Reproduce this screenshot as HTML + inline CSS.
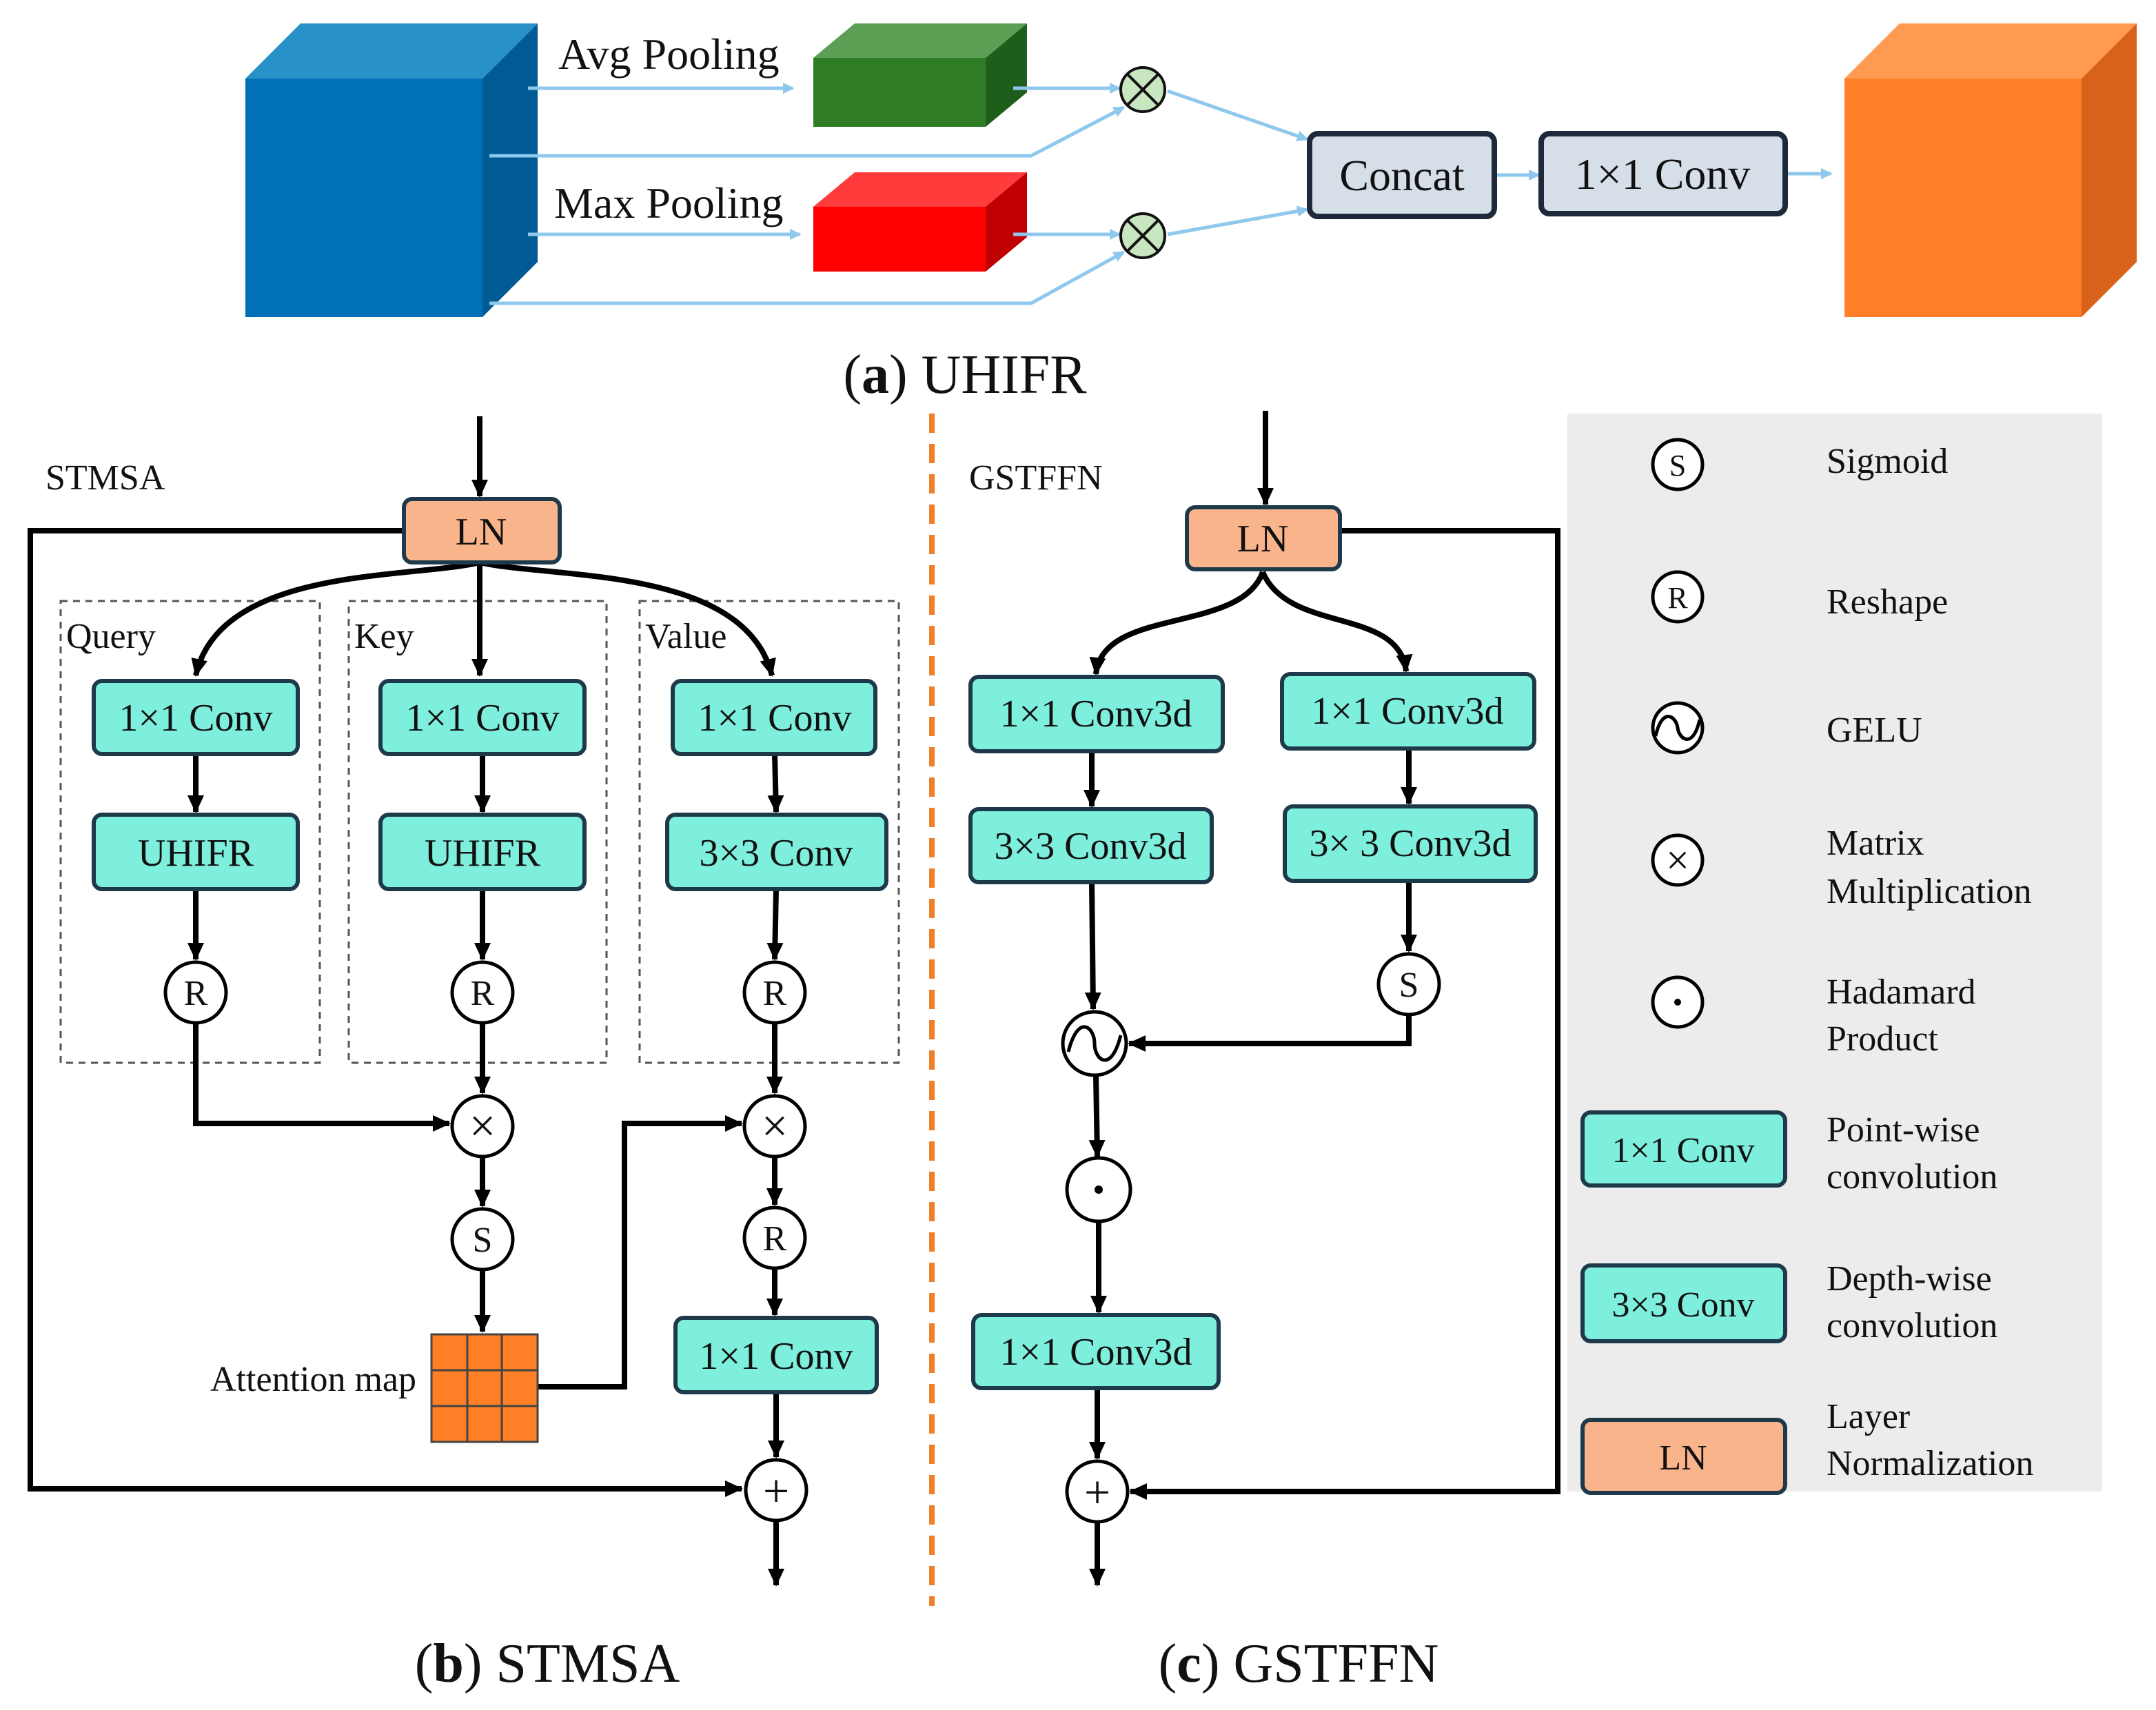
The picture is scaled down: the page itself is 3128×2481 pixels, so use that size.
<!DOCTYPE html>
<html><head><meta charset="utf-8"><style>
html,body{margin:0;padding:0;background:#fff;}
svg{display:block;}
text{font-family:"Liberation Serif",serif;fill:#111;}
</style></head><body>
<svg width="3128" height="2481" viewBox="0 0 1564 1240.5" xmlns="http://www.w3.org/2000/svg">
<defs>
<marker id="ab" markerWidth="8" markerHeight="8" refX="7" refY="4" orient="auto" markerUnits="userSpaceOnUse"><path d="M0,0 L12,4 L0,8 z" fill="#8ec8ec" transform="scale(0.7,1)"/></marker>
<marker id="ak" markerWidth="14" markerHeight="14" refX="12" refY="7" orient="auto" markerUnits="userSpaceOnUse"><path d="M0,1 L13,7 L0,13 z" fill="#000"/></marker>
</defs>
<rect width="1564" height="1240.5" fill="#fff"/>
<polygon points="178,57 218,17 390,17 350,57" fill="#2791c8"/>
<polygon points="350,57 390,17 390,190 350,230" fill="#005a94"/>
<rect x="178" y="57" width="172" height="173" fill="#0070b8"/>
<polygon points="590,42 620,17 745,17 715,42" fill="#5d9e55"/>
<polygon points="715,42 745,17 745,67 715,92" fill="#1f5e1a"/>
<rect x="590" y="42" width="125" height="50" fill="#2e7d25"/>
<polygon points="590,150 620,125 745,125 715,150" fill="#ff3b3b"/>
<polygon points="715,150 745,125 745,172 715,197" fill="#c00000"/>
<rect x="590" y="150" width="125" height="47" fill="#ff0000"/>
<polygon points="1338,57 1378,17 1550,17 1510,57" fill="#ff9a50"/>
<polygon points="1510,57 1550,17 1550,190 1510,230" fill="#d9621a"/>
<rect x="1338" y="57" width="172" height="173" fill="#ff7f27"/>
<g stroke="#8ec8ec" stroke-width="2.5" fill="none">
<line x1="383" y1="64" x2="575" y2="64" marker-end="url(#ab)"/>
<line x1="383" y1="170" x2="580" y2="170" marker-end="url(#ab)"/>
<polyline points="355,113 748,113 815,78" marker-end="url(#ab)"/>
<polyline points="355,220 748,220 815,183" marker-end="url(#ab)"/>
<line x1="735" y1="64" x2="812" y2="64" marker-end="url(#ab)"/>
<line x1="735" y1="170" x2="812" y2="170" marker-end="url(#ab)"/>
<line x1="847" y1="66" x2="948" y2="101" marker-end="url(#ab)"/>
<line x1="847" y1="170" x2="948" y2="152" marker-end="url(#ab)"/>
<line x1="1086" y1="127" x2="1116" y2="127" marker-end="url(#ab)"/>
<line x1="1297" y1="126" x2="1328" y2="126" marker-end="url(#ab)"/>
</g>
<g stroke="#111" stroke-width="2" fill="#c8e6c0">
<circle cx="829" cy="65" r="16"/><circle cx="829" cy="171" r="16"/>
</g>
<g stroke="#111" stroke-width="2"><path d="M818,54 L840,76 M840,54 L818,76 M818,160 L840,182 M840,160 L818,182"/></g>
<rect x="950" y="97" width="134" height="60" rx="6" fill="#d6dfe8" stroke="#1e2a3a" stroke-width="4"/>
<text x="1017" y="138" font-size="32" text-anchor="middle">Concat</text>
<rect x="1118" y="97" width="177" height="58" rx="6" fill="#d6dfe8" stroke="#1e2a3a" stroke-width="4"/>
<text x="1206" y="137" font-size="32" text-anchor="middle">1×1 Conv</text>
<text x="405" y="50" font-size="32">Avg Pooling</text>
<text x="402" y="158" font-size="32">Max Pooling</text>
<text x="700" y="285" font-size="40" text-anchor="middle">(<tspan font-weight="bold">a</tspan>) UHIFR</text>
<line x1="676" y1="300" x2="676" y2="1165" stroke="#f07f2a" stroke-width="4" stroke-dasharray="14 8"/>
<text x="33" y="355" font-size="26">STMSA</text>
<g stroke="#555" stroke-width="1.5" fill="none" stroke-dasharray="5 4">
<rect x="44" y="436" width="188" height="335"/><rect x="253" y="436" width="187" height="335"/><rect x="464" y="436" width="188" height="335"/>
</g>
<text x="48" y="470" font-size="26">Query</text><text x="257" y="470" font-size="26">Key</text><text x="468" y="470" font-size="26">Value</text>
<g stroke="#000" stroke-width="4" fill="none">
<line x1="348" y1="302" x2="348" y2="360" marker-end="url(#ak)"/>
<polyline points="293,385 22,385 22,1080 538,1080" marker-end="url(#ak)"/>
<path d="M348,408 C300,420 160,410 142,490" marker-end="url(#ak)"/>
<line x1="348" y1="408" x2="348" y2="490" marker-end="url(#ak)"/>
<path d="M348,408 C400,420 540,410 560,490" marker-end="url(#ak)"/>
<line x1="142" y1="547" x2="142" y2="589" marker-end="url(#ak)"/>
<line x1="350" y1="547" x2="350" y2="589" marker-end="url(#ak)"/>
<line x1="562" y1="547" x2="563" y2="589" marker-end="url(#ak)"/>
<line x1="142" y1="645" x2="142" y2="696" marker-end="url(#ak)"/>
<line x1="350" y1="645" x2="350" y2="696" marker-end="url(#ak)"/>
<line x1="563" y1="645" x2="562" y2="696" marker-end="url(#ak)"/>
<polyline points="142,742 142,815 326,815" marker-end="url(#ak)"/>
<line x1="350" y1="742" x2="350" y2="793" marker-end="url(#ak)"/>
<line x1="562" y1="742" x2="562" y2="793" marker-end="url(#ak)"/>
<line x1="350" y1="839" x2="350" y2="875" marker-end="url(#ak)"/>
<line x1="350" y1="921" x2="350" y2="966" marker-end="url(#ak)"/>
<polyline points="390,1006 453,1006 453,815 538,815" marker-end="url(#ak)"/>
<line x1="562" y1="839" x2="562" y2="874" marker-end="url(#ak)"/>
<line x1="562" y1="920" x2="562" y2="954" marker-end="url(#ak)"/>
<line x1="563" y1="1010" x2="563" y2="1057" marker-end="url(#ak)"/>
<line x1="563" y1="1104" x2="563" y2="1150" marker-end="url(#ak)"/>
</g>
<g stroke="#1e3a4a" stroke-width="3" fill="#7eeedd">
<rect x="68" y="494" width="148" height="53" rx="6"/><rect x="68" y="591" width="148" height="54" rx="6"/>
<rect x="276" y="494" width="148" height="53" rx="6"/><rect x="276" y="591" width="148" height="54" rx="6"/>
<rect x="488" y="494" width="147" height="53" rx="6"/><rect x="484" y="591" width="159" height="54" rx="6"/>
<rect x="490" y="956" width="146" height="54" rx="6"/>
</g>
<rect x="293" y="362" width="113" height="46" rx="6" fill="#f9b48c" stroke="#1e3a4a" stroke-width="3"/>
<text x="349" y="395" font-size="28" text-anchor="middle">LN</text>
<g font-size="28" text-anchor="middle">
<text x="142" y="530">1×1 Conv</text><text x="142" y="628">UHIFR</text>
<text x="350" y="530">1×1 Conv</text><text x="350" y="628">UHIFR</text>
<text x="562" y="530">1×1 Conv</text><text x="563" y="628">3×3 Conv</text>
<text x="563" y="993">1×1 Conv</text>
</g>
<g stroke="#000" stroke-width="2.5" fill="#fff">
<circle cx="142" cy="720" r="22"/><circle cx="350" cy="720" r="22"/><circle cx="562" cy="720" r="22"/>
<circle cx="350" cy="817" r="22"/><circle cx="562" cy="817" r="22"/>
<circle cx="350" cy="899" r="22"/><circle cx="562" cy="898" r="22"/>
<circle cx="563" cy="1081" r="22"/>
</g>
<g font-size="26" text-anchor="middle">
<text x="142" y="729">R</text><text x="350" y="729">R</text><text x="562" y="729">R</text>
<text x="350" y="908">S</text><text x="562" y="907">R</text>
</g>
<g font-size="34" text-anchor="middle">
<text x="350" y="828">×</text><text x="562" y="828">×</text>
<text x="563" y="1093">+</text>
</g>
<rect x="313" y="968" width="77" height="78" fill="#ff7f27" stroke="#444" stroke-width="1.5"/>
<g stroke="#444" stroke-width="1.5"><line x1="339" y1="968" x2="339" y2="1046"/><line x1="364" y1="968" x2="364" y2="1046"/><line x1="313" y1="994" x2="390" y2="994"/><line x1="313" y1="1020" x2="390" y2="1020"/></g>
<text x="302" y="1009" font-size="26" text-anchor="end">Attention map</text>
<text x="703" y="355" font-size="26">GSTFFN</text>
<g stroke="#000" stroke-width="4" fill="none">
<line x1="918" y1="298" x2="918" y2="366" marker-end="url(#ak)"/>
<polyline points="972,385 1130,385 1130,1082 820,1082" marker-end="url(#ak)"/>
<path d="M916,415 C900,460 800,440 795,489" marker-end="url(#ak)"/>
<path d="M916,415 C935,460 1015,440 1020,487" marker-end="url(#ak)"/>
<line x1="792" y1="545" x2="792" y2="585" marker-end="url(#ak)"/>
<line x1="1022" y1="543" x2="1022" y2="583" marker-end="url(#ak)"/>
<line x1="792" y1="640" x2="793" y2="732" marker-end="url(#ak)"/>
<line x1="1022" y1="639" x2="1022" y2="690" marker-end="url(#ak)"/>
<polyline points="1022,737 1022,757 819,757" marker-end="url(#ak)"/>
<line x1="795" y1="780" x2="796" y2="839" marker-end="url(#ak)"/>
<line x1="797" y1="887" x2="797" y2="952" marker-end="url(#ak)"/>
<line x1="796" y1="1007" x2="796" y2="1058" marker-end="url(#ak)"/>
<line x1="796" y1="1105" x2="796" y2="1150" marker-end="url(#ak)"/>
</g>
<rect x="861" y="368" width="111" height="45" rx="6" fill="#f9b48c" stroke="#1e3a4a" stroke-width="3"/>
<text x="916" y="400" font-size="28" text-anchor="middle">LN</text>
<g stroke="#1e3a4a" stroke-width="3" fill="#7eeedd">
<rect x="704" y="491" width="183" height="54" rx="6"/><rect x="930" y="489" width="183" height="54" rx="6"/>
<rect x="704" y="587" width="175" height="53" rx="6"/><rect x="932" y="585" width="182" height="54" rx="6"/>
<rect x="706" y="954" width="178" height="53" rx="6"/>
</g>
<g font-size="28" text-anchor="middle">
<text x="795" y="527">1×1 Conv3d</text><text x="1021" y="525">1×1 Conv3d</text>
<text x="791" y="623">3×3 Conv3d</text><text x="1023" y="621">3× 3 Conv3d</text>
<text x="795" y="990">1×1 Conv3d</text>
</g>
<g stroke="#000" stroke-width="2.5" fill="#fff">
<circle cx="1022" cy="714" r="22"/><circle cx="794" cy="757" r="23"/><circle cx="797" cy="863" r="23"/><circle cx="796" cy="1082" r="22"/>
</g>
<text x="1022" y="723" font-size="26" text-anchor="middle">S</text>
<text x="796" y="1094" font-size="34" text-anchor="middle">+</text>
<path d="M775,763 C782,735 794,745 794,757 C794,769 806,779 813,751" stroke="#000" stroke-width="2.5" fill="none"/>
<circle cx="797" cy="863" r="3" fill="#000"/>
<rect x="1137" y="300" width="388" height="782" fill="#ececec"/>
<g stroke="#000" stroke-width="2.5" fill="#fff">
<circle cx="1217" cy="337" r="18"/><circle cx="1217" cy="433" r="18"/><circle cx="1217" cy="528" r="18"/><circle cx="1217" cy="624" r="18"/><circle cx="1217" cy="727" r="18"/>
</g>
<g font-size="22" text-anchor="middle"><text x="1217" y="345">S</text><text x="1217" y="441">R</text></g>
<text x="1217" y="634" font-size="30" text-anchor="middle">×</text>
<path d="M1201,534 C1206,512 1216,520 1217,528 C1218,536 1228,544 1233,522" stroke="#000" stroke-width="2.5" fill="none"/>
<circle cx="1217" cy="727" r="2.5" fill="#000"/>
<g stroke="#1e3a4a" stroke-width="3">
<rect x="1148" y="807" width="147" height="53" rx="6" fill="#7eeedd"/>
<rect x="1148" y="918" width="147" height="55" rx="6" fill="#7eeedd"/>
<rect x="1148" y="1030" width="147" height="53" rx="6" fill="#f9b48c"/>
</g>
<g font-size="26" text-anchor="middle"><text x="1221" y="843">1×1 Conv</text><text x="1221" y="955">3×3 Conv</text><text x="1221" y="1066">LN</text></g>
<g font-size="26">
<text x="1325" y="343">Sigmoid</text><text x="1325" y="445">Reshape</text><text x="1325" y="538">GELU</text>
<text x="1325" y="620">Matrix</text><text x="1325" y="655">Multiplication</text>
<text x="1325" y="728">Hadamard</text><text x="1325" y="762">Product</text>
<text x="1325" y="828">Point-wise</text><text x="1325" y="862">convolution</text>
<text x="1325" y="936">Depth-wise</text><text x="1325" y="970">convolution</text>
<text x="1325" y="1036">Layer</text><text x="1325" y="1070">Normalization</text>
</g>
<text x="397" y="1220" font-size="40" text-anchor="middle">(<tspan font-weight="bold">b</tspan>) STMSA</text>
<text x="942" y="1220" font-size="40" text-anchor="middle">(<tspan font-weight="bold">c</tspan>) GSTFFN</text>
</svg>
</body></html>
